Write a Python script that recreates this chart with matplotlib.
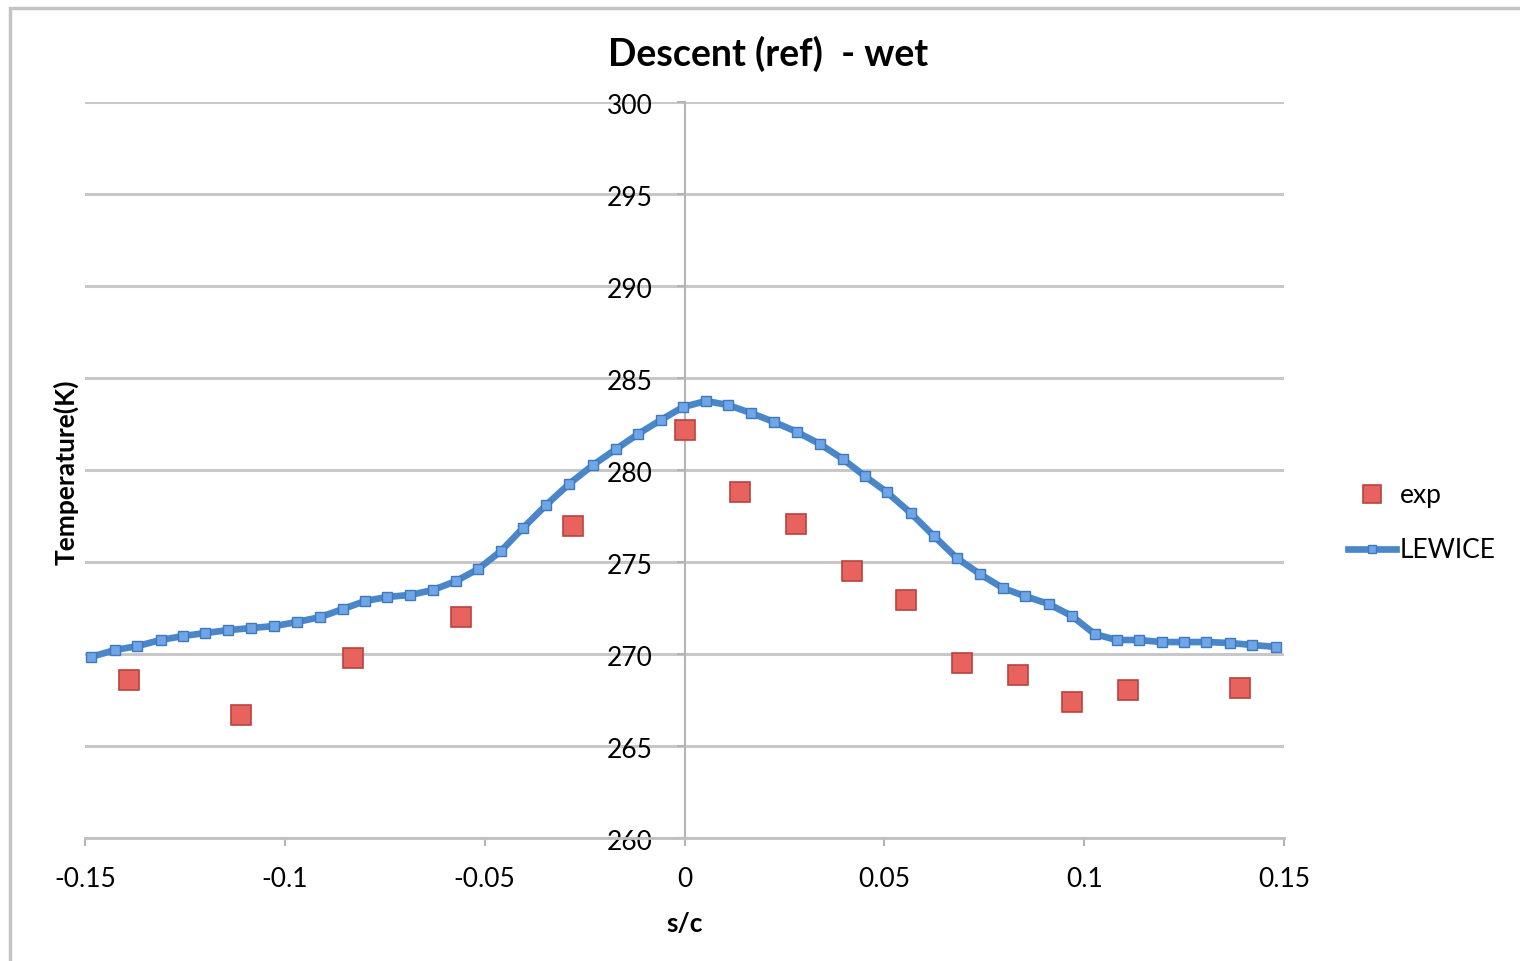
import matplotlib.pyplot as plt
import matplotlib.transforms as mtransforms
from matplotlib.patches import Rectangle

# LEWICE calculation
s_lewice = [-0.1486, -0.1424, -0.1369, -0.1311, -0.1254, -0.1199, -0.1141, -0.1084, -0.1026,
            -0.0969, -0.0911, -0.0854, -0.0799, -0.0744, -0.0686, -0.0629, -0.0571, -0.0516,
            -0.0459, -0.0404, -0.0346, -0.0289, -0.0229, -0.0171, -0.0116, -0.0059, -0.0004,
            0.0054, 0.0109, 0.0166, 0.0224, 0.0281, 0.0339, 0.0396, 0.0451, 0.0506, 0.0566,
            0.0624, 0.0681, 0.0739, 0.0796, 0.0851, 0.0911, 0.0969, 0.1026, 0.1081, 0.1136,
            0.1194, 0.1249, 0.1306, 0.1364, 0.1421, 0.1481]
t_lewice = [269.84, 270.22, 270.43, 270.76, 270.98, 271.14, 271.30, 271.41, 271.52,
            271.74, 272.01, 272.45, 272.88, 273.10, 273.21, 273.48, 273.97, 274.62,
            275.60, 276.85, 278.10, 279.24, 280.27, 281.14, 281.96, 282.72, 283.42,
            283.75, 283.53, 283.10, 282.61, 282.07, 281.41, 280.60, 279.67, 278.80, 277.66,
            276.41, 275.22, 274.35, 273.59, 273.15, 272.72, 272.07, 271.09, 270.76, 270.76,
            270.65, 270.65, 270.65, 270.60, 270.49, 270.38]

# experiment
s_exp = [-0.139, -0.111, -0.083, -0.056, -0.028, 0.0, 0.014, 0.028, 0.042, 0.0555,
         0.0695, 0.0835, 0.097, 0.111, 0.139]
t_exp = [268.59, 266.68, 269.78, 272.01, 276.96, 282.17, 278.80, 277.07, 274.51, 272.93,
         269.51, 268.86, 267.39, 268.04, 268.15]

x_ticks = [-0.15, -0.1, -0.05, 0, 0.05, 0.1, 0.15]
x_labels = ['-0.15', '-0.1', '-0.05', '0', '0.05', '0.1', '0.15']
y_ticks = [260, 265, 270, 275, 280, 285, 290, 295, 300]

plt.rcParams['font.family'] = ['Lato', 'DejaVu Sans']

fig = plt.figure(figsize=(15.2, 9.61), dpi=100)
ax = fig.add_axes([85 / 1520, 1 - 838 / 961, (1284 - 85) / 1520, (838 - 102) / 961])

# outer chart border
fig.patches.append(Rectangle((10 / 1520, -0.05), 1.1, 1 - 8 / 961 + 0.05,
                             transform=fig.transFigure, fill=False,
                             edgecolor='#c4c4c4', linewidth=2.5))

ax.plot(s_exp, t_exp, linestyle='none', marker='s', markersize=15,
        markerfacecolor='#e8635e', markeredgecolor='#b8433f', markeredgewidth=1.2,
        label='exp', zorder=4)
ax.plot(s_lewice, t_lewice, color='#4a86c8', linewidth=4.8, marker='s', markersize=7,
        markerfacecolor='#6ea6e8', markeredgecolor='#3f78bd', markeredgewidth=1,
        label='LEWICE', zorder=3)

ax.set_xlim(-0.15, 0.15)
ax.set_ylim(260, 300)
ax.set_xticks(x_ticks)
ax.set_xticklabels(x_labels)
ax.set_yticks(y_ticks)

ax.grid(axis='y', color='#c8c8c8', linewidth=2.2)
ax.set_axisbelow(True)

for side in ['top', 'right']:
    ax.spines[side].set_visible(False)
ax.spines['left'].set_position(('data', 0))
ax.spines['left'].set_color('#b4b4b4')
ax.spines['left'].set_linewidth(1.5)
ax.spines['bottom'].set_color('#c0c0c0')
ax.spines['bottom'].set_linewidth(2)

ax.tick_params(axis='x', length=6, width=1.5, color='#b4b4b4', pad=15, labelsize=19)
ax.tick_params(axis='y', length=6, width=1.5, color='#b4b4b4', pad=17, labelsize=19)

# nudge y tick labels slightly below their gridlines
shift = mtransforms.ScaledTranslation(0, -5 / 100, fig.dpi_scale_trans)
for lab in ax.get_yticklabels():
    lab.set_verticalalignment('center')
    lab.set_transform(lab.get_transform() + shift)

fig.text(768 / 1520, 1 - 54 / 961, 'Descent (ref)  - wet', fontsize=27, fontweight='bold',
         ha='center', va='center')
ax.set_xlabel('s/c', fontsize=19, fontweight='bold', labelpad=14)
fig.text(66 / 1520, 1 - 472 / 961, 'Temperature(K)', rotation=90, fontsize=19,
         fontweight='bold', ha='center', va='center')

ax.legend(loc='upper left', bbox_to_anchor=(1348 / 1520, 1 - 483 / 961),
          bbox_transform=fig.transFigure, frameon=False, fontsize=19,
          borderpad=0, borderaxespad=0, markerscale=0.85,
          handlelength=1.8, handletextpad=0.15, labelspacing=1.15)

plt.savefig('out.png', dpi=100)
